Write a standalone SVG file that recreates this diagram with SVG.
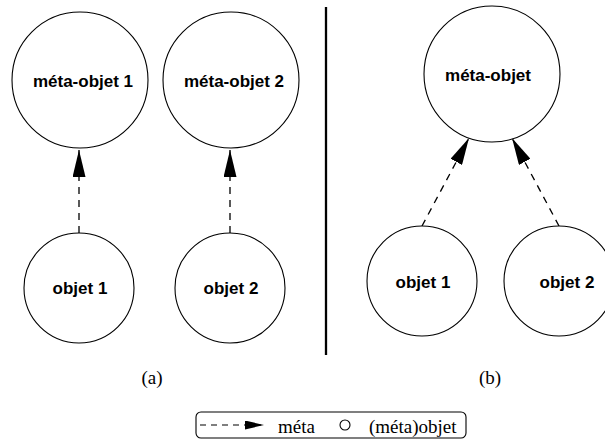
<svg xmlns="http://www.w3.org/2000/svg" width="605" height="440" viewBox="0 0 605 440">
<style>
.node{fill:#fff;stroke:#000;stroke-width:1.1}
.lbl{font-family:"Liberation Sans",Arial,sans-serif;font-weight:bold;font-size:17px;fill:#000;text-anchor:middle}
.cap{font-family:"Liberation Serif","Times New Roman",serif;font-size:19px;fill:#000;text-anchor:middle}
.leg{font-family:"Liberation Serif","Times New Roman",serif;font-size:19px;fill:#000}
.dash{fill:none;stroke:#000;stroke-width:1.3;stroke-dasharray:7,6}
</style>
<defs>
<marker id="ah" markerUnits="userSpaceOnUse" markerWidth="27" markerHeight="13" refX="27" refY="6.5" orient="auto">
<path d="M0,0 L27,6.5 L0,13 z" fill="#000"/>
</marker>
<marker id="ahs" markerUnits="userSpaceOnUse" markerWidth="19" markerHeight="9" refX="19" refY="4.5" orient="auto">
<path d="M0,0 L19,4.5 L0,9 z" fill="#000"/>
</marker>
</defs>
<rect width="605" height="440" fill="#fff"/>
<g id="connectors">
<line class="dash" x1="79" y1="233" x2="79" y2="150" marker-end="url(#ah)"/>
<line class="dash" x1="230" y1="233" x2="230" y2="150" marker-end="url(#ah)"/>
<line class="dash" x1="422" y1="226" x2="469" y2="138" marker-end="url(#ah)"/>
<line class="dash" x1="559" y1="226" x2="512" y2="138" marker-end="url(#ah)"/>
</g>
<g id="meta-objet-1"><circle class="node" cx="80" cy="80" r="68"/><text class="lbl" x="83" y="87">méta-objet 1</text></g>
<g id="meta-objet-2"><circle class="node" cx="231" cy="80" r="68"/><text class="lbl" x="234" y="87">méta-objet 2</text></g>
<g id="objet-1a"><circle class="node" cx="79" cy="288" r="55"/><text class="lbl" x="80" y="294">objet 1</text></g>
<g id="objet-2a"><circle class="node" cx="230" cy="288" r="55"/><text class="lbl" x="231" y="294">objet 2</text></g>
<line x1="326" y1="7" x2="326" y2="355" stroke="#000" stroke-width="2.3"/>
<g id="meta-objet"><circle class="node" cx="492" cy="74" r="68"/><text class="lbl" x="488" y="81">méta-objet</text></g>
<g id="objet-1b"><circle class="node" cx="422" cy="281" r="55"/><text class="lbl" x="423" y="288">objet 1</text></g>
<g id="objet-2b"><circle class="node" cx="559" cy="281" r="55"/><text class="lbl" x="567" y="288">objet 2</text></g>
<text class="cap" x="152" y="384">(a)</text>
<text class="cap" x="490" y="384">(b)</text>
<g id="legend">
<rect x="196" y="412" width="270" height="26" rx="5" ry="5" fill="#fff" stroke="#000" stroke-width="1.1"/>
<line x1="200" y1="425" x2="264" y2="425" stroke="#000" stroke-width="1.1" stroke-dasharray="6,5" marker-end="url(#ahs)"/>
<text class="leg" x="278" y="433">méta</text>
<circle cx="345" cy="425" r="5" fill="#fff" stroke="#000" stroke-width="1.1"/>
<text class="leg" x="369" y="433">(méta)objet</text>
</g>
</svg>
